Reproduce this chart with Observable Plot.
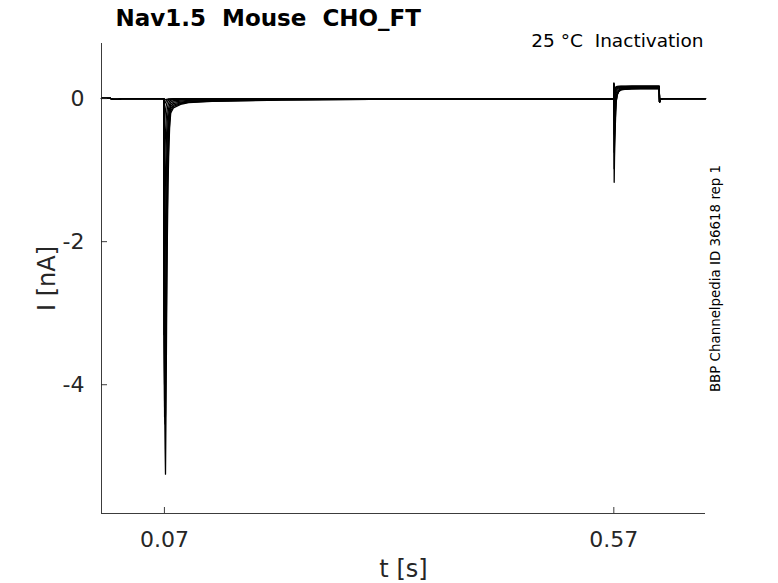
<!DOCTYPE html>
<html>
<head>
<meta charset="utf-8">
<script src="https://cdn.jsdelivr.net/npm/d3@7"></script>
<script src="https://cdn.jsdelivr.net/npm/@observablehq/plot@0.6"></script>
<style>
  html, body { margin: 0; padding: 0; background: #fff; }
  #chart { position: relative; width: 778px; height: 583px; }
  svg text { white-space: pre; }
</style>
</head>
<body>
<div id="chart"></div>
<script>
// ---- axes / labels ----
const xDomain = [0, 0.672];
const yDomain = [-5.8, 0.77];
const xTicks = [0.07, 0.57];
const xTickLabels = ["0.07", "0.57"];
const yTicks = [-4, -2, 0];
const yTickLabels = ["-4", "-2", "0"];
const titleText = "Nav1.5  Mouse  CHO_FT";
const condText = "25 °C  Inactivation";
const sideText = "BBP Channelpedia ID 36618 rep 1";
const xLabel = "t [s]";
const yLabel = "I [nA]";

// ---- traces (time in s, current in nA) ----
const preT = [0, 0.010, 0.013, 0.019, 0.022];
const preI = [0.004, 0.004, -0.012, -0.012, 0.0];

const ppT = [0.0692, 0.0696, 0.0702, 0.0708, 0.0712, 0.0718, 0.0724, 0.0732, 0.0740, 0.0748, 0.0758, 0.0770, 0.0800, 0.0880, 0.0970, 0.1230, 0.2000, 0.3000];
const ppI1  = [0, -1.5, -4.2, -4.9, -5.25, -4.3, -3.2, -2.0, -1.2, -0.76, -0.4, -0.2, -0.13, -0.08, -0.056, -0.04, -0.02, -0.01];
const ppI2  = [0, -2.0, -4.3, -4.55, -4.4, -3.6, -2.6, -1.6, -1.0, -0.6, -0.33, -0.17, -0.11, -0.07, -0.05, -0.035, -0.018, -0.01];
const ppI3  = [0, -3.0, -4.45, -4.2, -3.6, -2.8, -2.0, -1.2, -0.75, -0.45, -0.26, -0.14, -0.09, -0.06, -0.045, -0.03, -0.015, -0.008];
const ppI4  = [0, -3.4, -4.0, -3.5, -2.9, -2.1, -1.5, -0.9, -0.55, -0.34, -0.2, -0.11, -0.07, -0.05, -0.035, -0.025, -0.012, -0.006];
const ppI5  = [0, -3.3, -2.9, -2.3, -1.8, -1.3, -0.9, -0.55, -0.35, -0.22, -0.14, -0.08, -0.05, -0.035, -0.025, -0.018, -0.01, -0.005];
const ppI6  = [0, -2.3, -1.9, -1.4, -1.05, -0.75, -0.5, -0.3, -0.2, -0.13, -0.08, -0.05, -0.03, -0.02, -0.015, -0.01, -0.006, -0.003];
const ppI7  = [0, -1.2, -0.9, -0.65, -0.48, -0.33, -0.22, -0.14, -0.09, -0.06, -0.04, -0.025, -0.015, -0.01, -0.008, -0.006, -0.004, -0.002];
const ppI8  = [0, -0.45, -0.32, -0.22, -0.16, -0.11, -0.08, -0.05, -0.035, -0.025, -0.018, -0.012, -0.008, -0.006, -0.005, -0.004, -0.003, -0.002];
const ppI9  = [0, -0.1, -0.08, -0.06, -0.05, -0.04, -0.03, -0.02, -0.015, -0.01, -0.008, -0.006, -0.005, -0.004, -0.003, -0.003, -0.002, -0.001];
const ppI10 = [0, -0.03, -0.025, -0.02, -0.015, -0.012, -0.01, -0.008, -0.006, -0.005, -0.004, -0.003, -0.002, -0.002, -0.001, -0.001, -0.001, 0];

const testT = [0.5698, 0.5701, 0.5704, 0.5709, 0.5716, 0.5725, 0.5737, 0.5755, 0.578, 0.583, 0.59, 0.6, 0.6205];
const testI1  = [0, 0.22, -0.02, 0.1, 0.15, 0.165, 0.17, 0.172, 0.174, 0.175, 0.176, 0.176, 0.176];
const testI2  = [0, 0.21, -0.03, 0.09, 0.14, 0.16, 0.168, 0.17, 0.171, 0.172, 0.172, 0.172, 0.172];
const testI3  = [0, 0.21, -0.05, 0.07, 0.13, 0.155, 0.163, 0.166, 0.168, 0.168, 0.168, 0.168, 0.168];
const testI4  = [0, 0.2, -0.1, 0.03, 0.1, 0.14, 0.155, 0.16, 0.162, 0.163, 0.163, 0.163, 0.163];
const testI5  = [0, 0.2, -0.18, -0.03, 0.06, 0.11, 0.14, 0.152, 0.156, 0.158, 0.158, 0.158, 0.158];
const testI6  = [0, 0.19, -0.3, -0.12, 0.0, 0.07, 0.115, 0.14, 0.148, 0.152, 0.153, 0.153, 0.153];
const testI7  = [0, 0.19, -0.5, -0.25, -0.1, 0.02, 0.08, 0.12, 0.138, 0.146, 0.148, 0.148, 0.148];
const testI8  = [0, 0.18, -0.75, -0.42, -0.2, -0.04, 0.05, 0.1, 0.127, 0.14, 0.143, 0.144, 0.144];
const testI9  = [0, 0.18, -0.98, -0.57, -0.3, -0.06, 0.05, 0.1, 0.122, 0.134, 0.138, 0.14, 0.14];
const testI10 = [0, 0.17, -1.17, -0.7, -0.4, -0.05, 0.06, 0.105, 0.125, 0.13, 0.134, 0.136, 0.136];

const endT = [0.6209, 0.6216, 0.624, 0.672];
const endI = [-0.05, -0.015, 0, 0];

const ppSweeps = [ppI1, ppI2, ppI3, ppI4, ppI5, ppI6, ppI7, ppI8, ppI9, ppI10];
const testSweeps = [testI1, testI2, testI3, testI4, testI5, testI6, testI7, testI8, testI9, testI10];

const rows = [];
ppSweeps.forEach((pp, s) => {
  const push = (T, I) => T.forEach((t, k) => rows.push({sweep: s, t, i: I[k]}));
  push(preT, preI);
  push(ppT, pp);
  push(testT, testSweeps[s]);
  push(endT, endI);
});

const axisColor = "#262626";

const svg = Plot.plot({
  width: 778,
  height: 583,
  marginLeft: 101,
  marginRight: 73,
  marginTop: 43,
  marginBottom: 70,
  style: {fontFamily: "DejaVu Sans", fontSize: "22px", color: axisColor, background: "white", overflow: "visible"},
  x: {domain: xDomain},
  y: {domain: yDomain},
  marks: [
    Plot.line(rows, {x: "t", y: "i", z: "sweep", stroke: "black", strokeWidth: 1.3}),
    Plot.ruleY([yDomain[0]], {stroke: axisColor, strokeWidth: 0.9}),
    Plot.ruleX([xDomain[0]], {stroke: axisColor, strokeWidth: 0.9}),
    Plot.tickX(xTicks, {x: d => d, stroke: axisColor, strokeWidth: 0.9, insetTop: 464}),
    Plot.tickY(yTicks, {y: d => d, stroke: axisColor, strokeWidth: 0.9, insetRight: 598}),
    Plot.axisX(xTicks, {tickSize: 0, tickPadding: 18, fontSize: 22, fill: axisColor, label: null,
      tickFormat: d => xTickLabels[xTicks.indexOf(d)]}),
    Plot.axisY(yTicks, {tickSize: 0, tickPadding: 17, fontSize: 22, fill: axisColor, label: null,
      tickFormat: d => yTickLabels[yTicks.indexOf(d)]}),
    Plot.text([titleText], {text: d => d, frameAnchor: "top-left", dx: 14, dy: -24.5, textAnchor: "start",
      lineAnchor: "middle", fontSize: 23, fontWeight: "bold", fill: "black"}),
    Plot.text([condText], {text: d => d, frameAnchor: "top-right", dx: -2, dy: -2, textAnchor: "end",
      lineAnchor: "middle", fontSize: 18.5, fill: "black"}),
    Plot.text([sideText], {text: d => d, frameAnchor: "right", dx: 10.5, rotate: -90, textAnchor: "middle",
      lineAnchor: "middle", fontSize: 13.4, fill: "black"}),
    Plot.text([xLabel], {text: d => d, frameAnchor: "bottom", dy: 56, textAnchor: "middle", lineAnchor: "middle",
      fontSize: 24, fill: axisColor}),
    Plot.text([yLabel], {text: d => d, frameAnchor: "left", dx: -54, rotate: -90, textAnchor: "middle",
      lineAnchor: "middle", fontSize: 24, fill: axisColor})
  ]
});
document.getElementById("chart").appendChild(svg);
</script>
</body>
</html>
